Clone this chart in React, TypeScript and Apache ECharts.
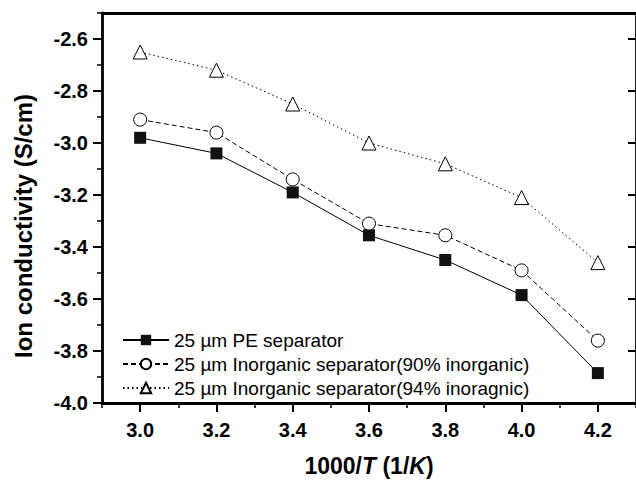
import React, { useEffect, useRef } from "react";
import * as echarts from "echarts";

const xValues = [3.0, 3.2, 3.4, 3.6, 3.8, 4.0, 4.2];
const peSeparator = [-2.98, -3.04, -3.19, -3.355, -3.45, -3.585, -3.885];
const inorganic90 = [-2.91, -2.96, -3.14, -3.31, -3.355, -3.49, -3.76];
const inorganic94 = [-2.65, -2.72, -2.85, -3.0, -3.08, -3.21, -3.46];
const seriesNames = [
  "25 µm PE separator",
  "25 µm Inorganic separator(90% inorganic)",
  "25 µm Inorganic separator(94% inoragnic)",
];
const xTicks = [3.0, 3.2, 3.4, 3.6, 3.8, 4.0, 4.2];
const yTicks = [-4.0, -3.8, -3.6, -3.4, -3.2, -3.0, -2.8, -2.6];
const yTitle = "Ion conductivity (S/cm)";

const FONT = "'Liberation Sans', Arial, Helvetica, sans-serif";

export default function App() {
  const ref = useRef<HTMLDivElement>(null);
  useEffect(() => {
    document.body.style.margin = "0";
    if (!ref.current) return;
    const chart = echarts.init(ref.current, undefined, { renderer: "svg" });
    const pair = (ys: number[]) => xValues.map((x, i) => [x, ys[i]]);
    const lineAxis = { show: true, lineStyle: { color: "#000", width: 2.8 } };
    chart.setOption({
      animation: false,
      backgroundColor: "#fff",
      grid: { left: 102, right: -5, top: 13, bottom: 71, containLabel: false },
      graphic: [
        {
          type: "text",
          x: 23,
          y: 226,
          rotation: Math.PI / 2,
          style: {
            text: yTitle,
            fontSize: 24,
            fontWeight: "bold",
            fontFamily: FONT,
            fill: "#000",
            align: "center",
            verticalAlign: "middle",
          },
        },
      ],
      legend: {
        orient: "vertical",
        left: 117,
        top: 324,
        itemWidth: 46,
        itemHeight: 13,
        itemGap: 2,
        data: seriesNames,
        textStyle: { fontSize: 19, color: "#000", fontFamily: FONT, lineHeight: 22 },
      },
      xAxis: [
        {
          type: "value",
          position: "bottom",
          min: 2.9,
          max: 4.3,
          name: "{a|1000/}{b|T}{a| (1/}{b|K}{a|)}",
          nameLocation: "middle",
          nameGap: 51,
          nameTextStyle: {
            rich: {
              a: { fontSize: 23, fontWeight: "bold", fontFamily: FONT, color: "#000" },
              b: { fontSize: 23, fontWeight: "bold", fontStyle: "italic", fontFamily: FONT, color: "#000" },
            },
          },
          axisLine: lineAxis,
          axisTick: { show: true, customValues: xTicks, length: 9, lineStyle: { color: "#000", width: 2 } },
          axisLabel: {
            customValues: xTicks,
            margin: 17,
            fontSize: 20,
            fontWeight: "bold",
            fontFamily: FONT,
            color: "#000",
            formatter: (v: number) => v.toFixed(1),
          },
          splitLine: { show: false },
        },
        {
          type: "value",
          position: "bottom",
          min: 2.9,
          max: 4.3,
          interval: 0.1,
          axisLine: { show: false },
          axisTick: { show: true, length: 5, lineStyle: { color: "#000", width: 1.5 } },
          axisLabel: { show: false },
          splitLine: { show: false },
        },
        {
          type: "value",
          position: "top",
          min: 2.9,
          max: 4.3,
          axisLine: lineAxis,
          axisTick: { show: false },
          axisLabel: { show: false },
          splitLine: { show: false },
        },
      ],
      yAxis: [
        {
          type: "value",
          position: "left",
          min: -4.0,
          max: -2.5,
          axisLine: lineAxis,
          axisTick: { show: true, customValues: yTicks, length: 9, lineStyle: { color: "#000", width: 2 } },
          axisLabel: {
            customValues: yTicks,
            margin: 14,
            fontSize: 20,
            fontWeight: "bold",
            fontFamily: FONT,
            color: "#000",
            formatter: (v: number) => v.toFixed(1),
          },
          splitLine: { show: false },
        },
        {
          type: "value",
          position: "left",
          min: -4.0,
          max: -2.5,
          interval: 0.1,
          axisLine: { show: false },
          axisTick: { show: true, length: 5, lineStyle: { color: "#000", width: 1.5 } },
          axisLabel: { show: false },
          splitLine: { show: false },
        },
        {
          type: "value",
          position: "right",
          min: -4.0,
          max: -2.5,
          axisLine: lineAxis,
          axisTick: { show: true, inside: true, customValues: yTicks, length: 8, lineStyle: { color: "#000", width: 2 } },
          axisLabel: { show: false },
          splitLine: { show: false },
        },
      ],
      series: [
        {
          name: seriesNames[0],
          type: "line",
          data: pair(peSeparator),
          symbol: "rect",
          symbolSize: 12,
          lineStyle: { color: "#000", width: 1, type: "solid" },
          itemStyle: { color: "#111", borderColor: "#111", borderWidth: 0 },
        },
        {
          name: seriesNames[1],
          type: "line",
          data: pair(inorganic90),
          symbol: "circle",
          symbolSize: 13,
          lineStyle: { color: "#000", width: 1, type: [5, 3] },
          itemStyle: { color: "#fff", borderColor: "#000", borderWidth: 1 },
        },
        {
          name: seriesNames[2],
          type: "line",
          data: pair(inorganic94),
          symbol: "triangle",
          symbolSize: 14,
          lineStyle: { color: "#000", width: 1, type: [1.5, 3] },
          itemStyle: { color: "#fff", borderColor: "#000", borderWidth: 1 },
        },
      ],
    });
    return () => chart.dispose();
  }, []);
  return <div ref={ref} style={{ width: 636, height: 482 }} />;
}
